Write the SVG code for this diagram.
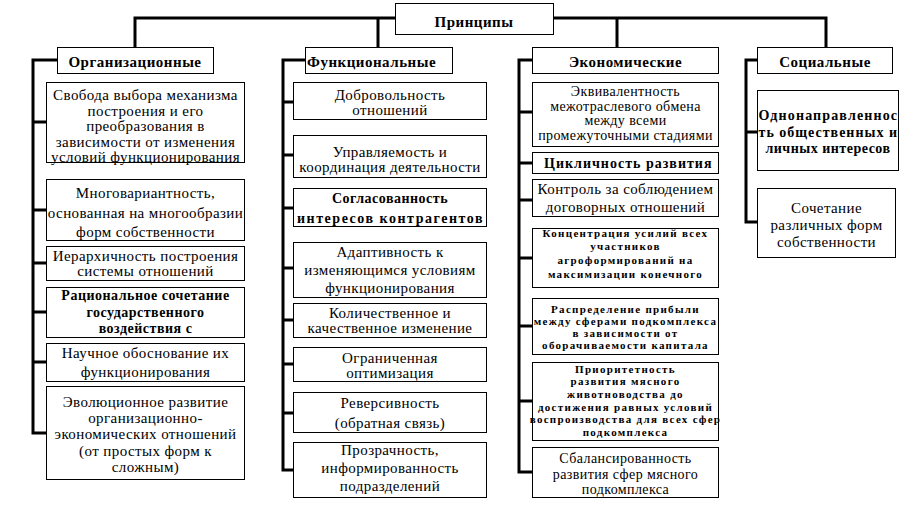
<svg xmlns="http://www.w3.org/2000/svg" width="916" height="515" viewBox="0 0 916 515">
<style>
rect{fill:#fff;stroke:#000;stroke-width:1}
text{font-family:"Liberation Serif","Times New Roman",serif;fill:#000;text-anchor:middle}
.r{font-size:15px;letter-spacing:0.4px}
.t{font-size:14px;letter-spacing:0.4px}
.b{font-size:14px;font-weight:bold;letter-spacing:0.5px}
.s{font-size:11px;font-weight:bold;letter-spacing:1.3px}
.h{font-size:15px;font-weight:bold;letter-spacing:0.5px}
#connectors path{fill:none;stroke:#000;stroke-width:3}
</style>
<rect x="0" y="0" width="916" height="515" style="fill:#fff;stroke:none"/>
<g id="connectors">
<path d="M135,47V18H826V47M378,18V47M617,18V47"/>
<path d="M57,60H33V433H46M33,122H46M33,210H46M33,263H46M33,312H46M33,362H46"/>
<path d="M305,60H283V470H293M283,102H293M283,155H293M283,208H293M283,268H293M283,320H293M283,364H293M283,413H293"/>
<path d="M532,60H519V472H532M519,112H532M519,163H532M519,200H532M519,258H532M519,326H532M519,401H532"/>
<path d="M757,60H746V222H757M746,132H757"/>
</g>
<g id="root"><rect x="395.5" y="3.5" width="158" height="31"/><text class="h" x="474" y="27">Принципы</text></g>
<g id="org">
<g id="org-h"><rect x="57.5" y="47.5" width="156" height="26"/><text class="h" x="135" y="67">Организационные</text></g>
<g id="org1"><rect x="46.5" y="82.5" width="198" height="80"/><text class="r"><tspan x="145.5" y="100">Свобода выбора механизма</tspan><tspan x="145.5" y="115.5">построения и его</tspan><tspan x="145.5" y="131">преобразования в</tspan><tspan x="145.5" y="146.5">зависимости от изменения</tspan><tspan x="145.5" y="162">условий функционирования</tspan></text></g>
<g id="org2"><rect x="46.5" y="179.5" width="198" height="61"/><text class="r"><tspan x="145.5" y="198">Многовариантность,</tspan><tspan x="145.5" y="218">основанная на многообразии</tspan><tspan x="145.5" y="237">форм собственности</tspan></text></g>
<g id="org3"><rect x="46.5" y="246.5" width="198" height="34"/><text class="r"><tspan x="145.5" y="261">Иерархичность построения</tspan><tspan x="145.5" y="276">системы отношений</tspan></text></g>
<g id="org4"><rect x="46.5" y="287.5" width="198" height="50"/><text class="b"><tspan x="145.5" y="300">Рациональное сочетание</tspan><tspan x="145.5" y="317">государственного</tspan><tspan x="145.5" y="333">воздействия с</tspan></text></g>
<g id="org5"><rect x="46.5" y="343.5" width="198" height="38"/><text class="r"><tspan x="145.5" y="358">Научное обоснование их</tspan><tspan x="145.5" y="377">функционирования</tspan></text></g>
<g id="org6"><rect x="46.5" y="386.5" width="198" height="93"/><text class="r"><tspan x="145.5" y="407">Эволюционное развитие</tspan><tspan x="145.5" y="423">организационно-</tspan><tspan x="145.5" y="439">экономических отношений</tspan><tspan x="145.5" y="456">(от простых форм к</tspan><tspan x="145.5" y="472">сложным)</tspan></text></g>
</g>
<g id="func">
<g id="func-h"><rect x="305.5" y="47.5" width="147" height="26"/><text class="h" x="307" y="67" style="text-anchor:start">Функциональные</text></g>
<g id="func1"><rect x="293.5" y="82.5" width="193" height="37"/><text class="r"><tspan x="390" y="100">Добровольность</tspan><tspan x="390" y="115">отношений</tspan></text></g>
<g id="func2"><rect x="293.5" y="135.5" width="193" height="42"/><text class="r"><tspan x="390" y="157">Управляемость и</tspan><tspan x="390" y="172">координация деятельности</tspan></text></g>
<g id="func3"><rect x="293.5" y="188.5" width="193" height="38"/><text class="b"><tspan x="390" y="203">Согласованность</tspan><tspan x="390" y="223" textLength="186" lengthAdjust="spacing">интересов контрагентов</tspan></text></g>
<g id="func4"><rect x="293.5" y="242.5" width="193" height="55"/><text class="r"><tspan x="390" y="257">Адаптивность к</tspan><tspan x="390" y="275">изменяющимся условиям</tspan><tspan x="390" y="293">функционирования</tspan></text></g>
<g id="func5"><rect x="293.5" y="303.5" width="193" height="34"/><text class="r"><tspan x="390" y="318">Количественное и</tspan><tspan x="390" y="333">качественное изменение</tspan></text></g>
<g id="func6"><rect x="293.5" y="347.5" width="193" height="34"/><text class="r"><tspan x="390" y="363">Ограниченная</tspan><tspan x="390" y="378">оптимизация</tspan></text></g>
<g id="func7"><rect x="293.5" y="392.5" width="193" height="40"/><text class="r"><tspan x="390" y="408">Реверсивность</tspan><tspan x="390" y="428">(обратная связь)</tspan></text></g>
<g id="func8"><rect x="293.5" y="442.5" width="193" height="55"/><text class="r"><tspan x="390" y="455">Прозрачность,</tspan><tspan x="390" y="473">информированность</tspan><tspan x="390" y="491">подразделений</tspan></text></g>
</g>
<g id="econ">
<g id="econ-h"><rect x="532.5" y="47.5" width="186" height="26"/><text class="h" x="625.5" y="67">Экономические</text></g>
<g id="econ1"><rect x="532.5" y="82.5" width="186" height="64"/><text class="t"><tspan x="625.5" y="96">Эквивалентность</tspan><tspan x="625.5" y="110.5">межотраслевого обмена</tspan><tspan x="625.5" y="125">между всеми</tspan><tspan x="625.5" y="139.5">промежуточными стадиями</tspan></text></g>
<g id="econ2"><rect x="532.5" y="152.5" width="186" height="21"/><text class="b" x="628" y="168" textLength="168" lengthAdjust="spacing">Цикличность развития</text></g>
<g id="econ3"><rect x="532.5" y="179.5" width="186" height="37"/><text class="r"><tspan x="625.5" y="194">Контроль за соблюдением</tspan><tspan x="625.5" y="212">договорных отношений</tspan></text></g>
<g id="econ4"><rect x="532.5" y="228.5" width="186" height="59"/><text class="s"><tspan x="625.5" y="237">Концентрация усилий всех</tspan><tspan x="625.5" y="250">участников</tspan><tspan x="625.5" y="264">агроформирований на</tspan><tspan x="625.5" y="278">максимизации конечного</tspan></text></g>
<g id="econ5"><rect x="532.5" y="298.5" width="186" height="56"/><text class="s"><tspan x="625.5" y="313">Распределение прибыли</tspan><tspan x="625.5" y="325">между сферами подкомплекса</tspan><tspan x="625.5" y="337">в зависимости от</tspan><tspan x="625.5" y="349">оборачиваемости капитала</tspan></text></g>
<g id="econ6"><rect x="532.5" y="362.5" width="186" height="78"/><text class="s"><tspan x="625.5" y="373">Приоритетность</tspan><tspan x="625.5" y="385">развития мясного</tspan><tspan x="625.5" y="398">животноводства до</tspan><tspan x="625.5" y="411">достижения равных условий</tspan><tspan x="625.5" y="423">воспроизводства для всех сфер</tspan><tspan x="625.5" y="436">подкомплекса</tspan></text></g>
<g id="econ7"><rect x="532.5" y="447.5" width="186" height="50"/><text class="t"><tspan x="625.5" y="463">Сбалансированность</tspan><tspan x="625.5" y="478.5">развития сфер мясного</tspan><tspan x="625.5" y="494">подкомплекса</tspan></text></g>
</g>
<g id="soc">
<g id="soc-h"><rect x="757.5" y="47.5" width="135" height="26"/><text class="h" x="825" y="67">Социальные</text></g>
<g id="soc1"><rect x="757.5" y="90.5" width="141" height="80"/><text class="b"><tspan x="828" y="120" textLength="139" lengthAdjust="spacing">Однонаправленнос</tspan><tspan x="828" y="137" textLength="139" lengthAdjust="spacing">ть общественных и</tspan><tspan x="828" y="153">личных интересов</tspan></text></g>
<g id="soc2"><rect x="757.5" y="188.5" width="138" height="69"/><text class="r"><tspan x="826.5" y="213">Сочетание</tspan><tspan x="826.5" y="230">различных форм</tspan><tspan x="826.5" y="247">собственности</tspan></text></g>
</g>
</svg>
